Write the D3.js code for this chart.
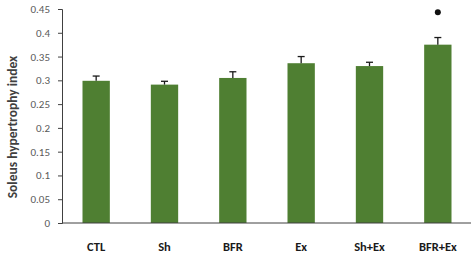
<!DOCTYPE html>
<html>
<head>
<meta charset="utf-8">
<script src="https://cdn.jsdelivr.net/npm/d3@7"></script>
<style>
  body { margin: 0; background: #fff; }
  text { font-family: Calibri, Carlito, "Open Sans", sans-serif; }
</style>
</head>
<body>
<svg id="chart"></svg>
<script>
// Data
const groups = ["CTL", "Sh", "BFR", "Ex", "Sh+Ex", "BFR+Ex"];
const means = [0.299, 0.291, 0.305, 0.336, 0.330, 0.375];
const errors = [0.010, 0.007, 0.013, 0.014, 0.008, 0.015];
const marked = ["BFR+Ex"];
const yTicks = [0, 0.05, 0.1, 0.15, 0.2, 0.25, 0.3, 0.35, 0.4, 0.45];

const width = 474, height = 256;
const margin = { top: 9, right: 2, bottom: 33, left: 62 };

const svg = d3.select("#chart")
  .attr("width", width)
  .attr("height", height);

// Scales
const x = d3.scaleBand()
  .domain(groups)
  .range([margin.left, width - margin.right])
  .paddingInner(0.6)
  .paddingOuter(0.3);

const y = d3.scaleLinear()
  .domain([0, 0.45])
  .range([height - margin.bottom, margin.top]);

// Y axis
const yAxis = svg.append("g")
  .attr("transform", `translate(${margin.left},0)`)
  .call(d3.axisLeft(y).tickValues(yTicks).tickSize(4).tickPadding(8)
    .tickFormat(d => d === 0 ? "0" : String(+d.toFixed(2))));
yAxis.select(".domain").attr("stroke", "#404040");
yAxis.selectAll(".tick line").attr("stroke", "#404040");
yAxis.selectAll(".tick text")
  .attr("fill", "#595959")
  .style("font-size", "11px");

// Bars
svg.selectAll(".bar")
  .data(groups)
  .enter()
  .append("rect")
  .attr("class", "bar")
  .attr("x", d => x(d))
  .attr("y", (d, i) => y(means[i]))
  .attr("width", x.bandwidth())
  .attr("height", (d, i) => y(0) - y(means[i]))
  .attr("fill", "#4f7f32");

// Error bars (upper only)
const err = svg.selectAll(".err")
  .data(groups)
  .enter()
  .append("g")
  .attr("class", "err")
  .attr("stroke", "#1a1a1a")
  .attr("stroke-width", 1.3);

err.append("line")
  .attr("x1", d => x(d) + x.bandwidth() / 2)
  .attr("x2", d => x(d) + x.bandwidth() / 2)
  .attr("y1", (d, i) => y(means[i]))
  .attr("y2", (d, i) => y(means[i] + errors[i]));

err.append("line")
  .attr("x1", d => x(d) + x.bandwidth() / 2 - 3.5)
  .attr("x2", d => x(d) + x.bandwidth() / 2 + 3.5)
  .attr("y1", (d, i) => y(means[i] + errors[i]))
  .attr("y2", (d, i) => y(means[i] + errors[i]));

// X axis line
svg.append("line")
  .attr("x1", margin.left)
  .attr("x2", width - margin.right - 1)
  .attr("y1", y(0))
  .attr("y2", y(0))
  .attr("stroke", "#404040");

// Category labels
svg.selectAll(".cat")
  .data(groups)
  .enter()
  .append("text")
  .attr("class", "cat")
  .attr("x", d => x(d) + x.bandwidth() / 2)
  .attr("y", 251)
  .attr("text-anchor", "middle")
  .attr("fill", "#1a1a1a")
  .style("font-size", "12.5px")
  .style("font-weight", "bold")
  .text(d => d);

// Significance dot
svg.selectAll(".sig")
  .data(marked)
  .enter()
  .append("circle")
  .attr("class", "sig")
  .attr("cx", d => x(d) + x.bandwidth() / 2)
  .attr("cy", y(0.443))
  .attr("r", 3)
  .attr("fill", "#111");

// Y axis title
svg.append("text")
  .attr("transform", `translate(17, 127) rotate(-90)`)
  .attr("text-anchor", "middle")
  .attr("fill", "#404040")
  .style("font-size", "13.5px")
  .style("font-weight", "bold")
  .text("Soleus hypertrophy index");
</script>
</body>
</html>
